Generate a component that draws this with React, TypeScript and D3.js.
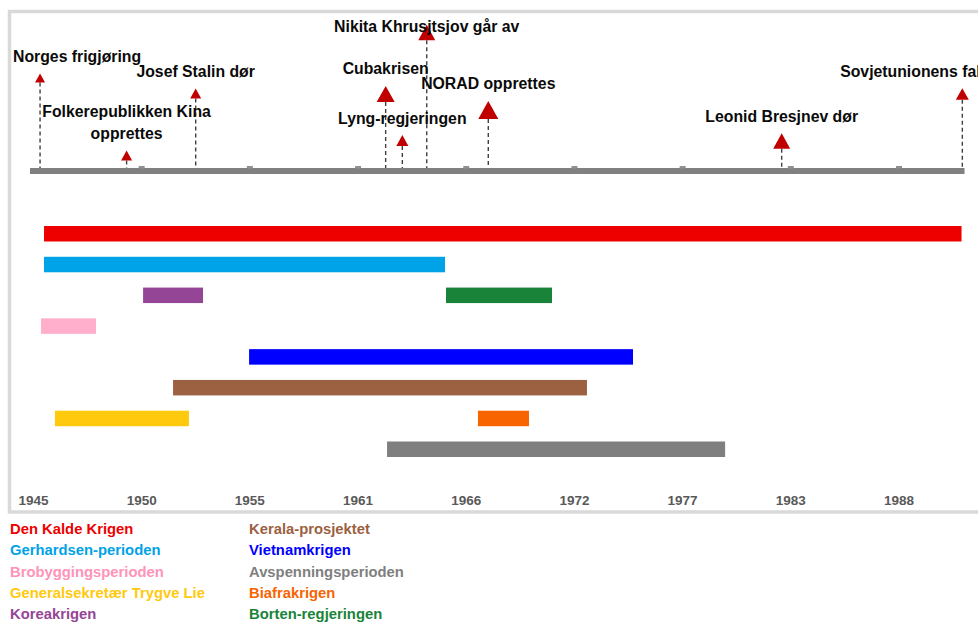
import React, { useEffect, useRef } from "react";
import * as d3 from "d3";

// periods (bars) - same order as the legend
const periodNames = [
  "Den Kalde Krigen",
  "Gerhardsen-perioden",
  "Brobyggingsperioden",
  "Generalsekretær Trygve Lie",
  "Koreakrigen",
  "Kerala-prosjektet",
  "Vietnamkrigen",
  "Avspenningsperioden",
  "Biafrakrigen",
  "Borten-regjeringen",
];
const periodColors = [
  "#EE0000",
  "#00A2E8",
  "#FFAECB",
  "#FFC90E",
  "#954596",
  "#9C6141",
  "#0000FF",
  "#7F7F7F",
  "#F86400",
  "#1A833A",
];
const periodStart = [1945.53, 1945.53, 1945.38, 1946.08, 1950.52, 1952.03, 1955.86, 1962.81, 1967.39, 1965.78];
const periodEnd = [1991.75, 1965.73, 1948.15, 1952.83, 1953.54, 1972.88, 1975.2, 1979.84, 1969.96, 1971.12];
const periodRow = [0, 1, 3, 6, 2, 5, 4, 7, 6, 2];

// events (markers on the top line)
const eventNames = [
  "Norges frigjøring",
  "Folkerepublikken Kina\nopprettes",
  "Josef Stalin dør",
  "Cubakrisen",
  "Lyng-regjeringen",
  "Nikita Khrusjtsjov går av",
  "NORAD opprettes",
  "Leonid Bresjnev dør",
  "Sovjetunionens fall",
];
const eventYears = [1945.33, 1949.69, 1953.17, 1962.74, 1963.58, 1964.81, 1967.91, 1982.69, 1991.79];
const eventHeights = [93, 15.5, 77.5, 77, 30.5, 138.5, 61, 30, 77];

const tickYears = [1945, 1950.45, 1955.9, 1961.35, 1966.8, 1972.25, 1977.7, 1983.15, 1988.6];
const tickLabels = ["1945", "1950", "1955", "1961", "1966", "1972", "1977", "1983", "1988"];

const markerSizes = [10, 11, 11, 18, 12, 17, 20, 17, 13];

const W = 978;
const H = 623;
const FONT = "'Liberation Sans', Arial, sans-serif";

const Timeline: React.FC = () => {
  const ref = useRef<SVGSVGElement | null>(null);

  useEffect(() => {
    const svg = d3.select(ref.current);
    svg.selectAll("*").remove();

    const x = d3.scaleLinear().domain([1945, 1992]).range([33.5, 966.5]);
    const yEvt = d3.scaleLinear().domain([0, 150]).range([171, 21]);
    const rowY = d3.scaleLinear().domain([0, 7]).range([226, 441.5]);
    const barH = 15.5;

    // chart frame
    svg
      .append("rect")
      .attr("x", 9.5)
      .attr("y", 11.5)
      .attr("width", 1000)
      .attr("height", 500.5)
      .attr("fill", "none")
      .attr("stroke", "#D9D9D9")
      .attr("stroke-width", 3.5);

    // event axis
    svg
      .append("rect")
      .attr("x", 30)
      .attr("y", 168)
      .attr("width", x(1991.9) - 30)
      .attr("height", 6)
      .attr("fill", "#808080");

    svg
      .selectAll(".bump")
      .data(tickYears.slice(1))
      .enter()
      .append("rect")
      .attr("x", (d) => x(d) - 3)
      .attr("y", 166)
      .attr("width", 6)
      .attr("height", 2.5)
      .attr("fill", "#909090");

    const events = eventNames.map((name, i) => ({
      name,
      year: eventYears[i],
      h: eventHeights[i],
      size: markerSizes[i],
    }));

    // dashed drop lines
    svg
      .selectAll(".drop")
      .data(events)
      .enter()
      .append("line")
      .attr("x1", (d) => x(d.year))
      .attr("x2", (d) => x(d.year))
      .attr("y1", (d) => yEvt(d.h) + d.size * 0.45)
      .attr("y2", 168)
      .attr("stroke", "#404040")
      .attr("stroke-width", 1.4)
      .attr("stroke-dasharray", "4,3");

    // triangles
    svg
      .selectAll(".tri")
      .data(events)
      .enter()
      .append("path")
      .attr("d", (d) => {
        const cx = x(d.year);
        const cy = yEvt(d.h);
        const s = d.size;
        return `M${cx},${cy - s * 0.45}L${cx + s / 2},${cy + s * 0.45}L${cx - s / 2},${cy + s * 0.45}Z`;
      })
      .attr("fill", "#C00000");

    // event labels
    events.forEach((d) => {
      const lines = d.name.split("\n");
      const cx = x(d.year);
      const lastBase = yEvt(d.h) - d.size / 2 - 11;
      let firstBase = lastBase - (lines.length - 1) * 22;
      if (firstBase < 32) firstBase = 32;
      const t = svg
        .append("text")
        .attr("text-anchor", "middle")
        .attr("font-family", FONT)
        .attr("font-weight", "bold")
        .attr("font-size", "15.8px")
        .attr("fill", "#0a0a0a");
      lines.forEach((ln, j) => {
        t.append("tspan")
          .attr("x", cx)
          .attr("y", firstBase + j * 22)
          .text(ln);
      });
      const node = t.node() as SVGTextElement;
      const bb = node.getBBox();
      let shift = 0;
      if (bb.x < 13) shift = 13 - bb.x;
      if (bb.x + bb.width > 985) shift = 985 - (bb.x + bb.width);
      if (shift !== 0) t.attr("transform", `translate(${shift},0)`);
    });

    // period bars
    const periods = periodNames.map((name, i) => ({
      name,
      color: periodColors[i],
      start: periodStart[i],
      end: periodEnd[i],
      row: periodRow[i],
    }));

    svg
      .selectAll(".bar")
      .data(periods)
      .enter()
      .append("rect")
      .attr("x", (d) => x(d.start))
      .attr("y", (d) => rowY(d.row))
      .attr("width", (d) => x(d.end) - x(d.start))
      .attr("height", barH)
      .attr("fill", (d) => d.color);

    // bottom axis labels
    svg
      .selectAll(".tick")
      .data(tickYears)
      .enter()
      .append("text")
      .attr("x", (d) => x(d))
      .attr("y", 505)
      .attr("text-anchor", "middle")
      .attr("font-family", FONT)
      .attr("font-weight", "bold")
      .attr("font-size", "13.5px")
      .attr("fill", "#595959")
      .text((d, i) => tickLabels[i]);

    // legend
    svg
      .selectAll(".legend")
      .data(periods)
      .enter()
      .append("text")
      .attr("x", (d, i) => (i < 5 ? 10 : 249))
      .attr("y", (d, i) => 534 + (i % 5) * 21.3)
      .attr("font-family", FONT)
      .attr("font-weight", "bold")
      .attr("font-size", "14.8px")
      .attr("fill", (d) => (d.name === "Brobyggingsperioden" ? "#FF93B8" : d.color))
      .text((d) => d.name);
  }, []);

  return (
    <svg
      ref={ref}
      width={W}
      height={H}
      style={{ position: "absolute", left: 0, top: 0, background: "#fff" }}
    ></svg>
  );
};

export default function App() {
  return <Timeline />;
}
